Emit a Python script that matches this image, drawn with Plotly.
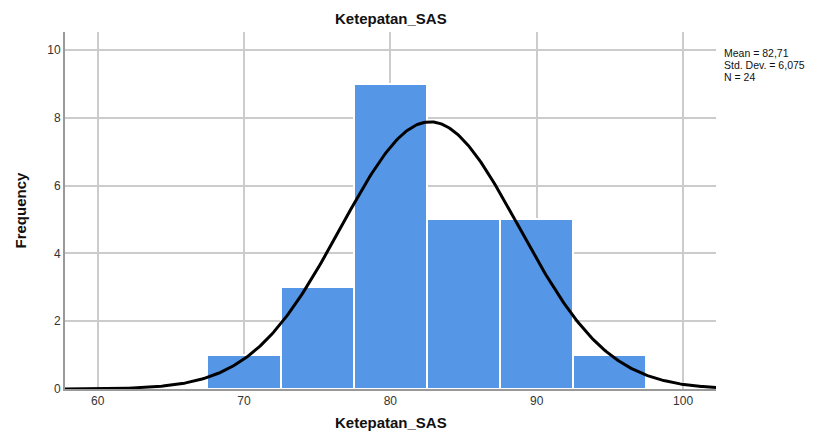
import numpy as np
import plotly.graph_objects as go

# Histogram data (bin centers, counts)
bin_centers = [70, 75, 80, 85, 90, 95]
counts = [1, 3, 9, 5, 5, 1]
bin_width = 5

# Displayed summary statistics
mean_val = 82.71
sd_val = 6.075
n_val = 24
stats_lines = ["Mean = 82,71", "Std. Dev. = 6,075", "N = 24"]

x_ticks = [60, 70, 80, 90, 100]
y_ticks = [0, 2, 4, 6, 8, 10]

# Fitted normal curve from the displayed statistics
xc = np.linspace(57.77, 102.25, 400)
yc = n_val * bin_width / (sd_val * np.sqrt(2 * np.pi)) * np.exp(-0.5 * ((xc - mean_val) / sd_val) ** 2)

fig = go.Figure()
fig.add_trace(go.Bar(
    x=bin_centers, y=counts, width=[bin_width] * len(bin_centers),
    marker=dict(color="rgb(85,150,230)", line=dict(color="white", width=2)),
    showlegend=False, hoverinfo="x+y",
))
fig.add_trace(go.Scatter(
    x=xc, y=yc, mode="lines", line=dict(color="black", width=3),
    showlegend=False, hoverinfo="skip",
))

font_family = "Liberation Sans, Arial, sans-serif"
annotations = [
    dict(text="<b>Ketepatan_SAS</b>", x=0.5, xref="paper", xanchor="center",
         y=1.0, yref="paper", yanchor="bottom", yshift=3,
         showarrow=False, font=dict(size=15, color="#111")),
    dict(text="<b>Ketepatan_SAS</b>", x=0.5, xref="paper", xanchor="center",
         y=0, yref="paper", yanchor="middle", yshift=-33,
         showarrow=False, font=dict(size=15, color="#111")),
    dict(text="<b>Frequency</b>", x=0, xref="paper", xanchor="center", xshift=-45,
         y=0.5, yref="paper", yanchor="middle",
         textangle=-90, showarrow=False, font=dict(size=15, color="#111")),
]
for i, line in enumerate(stats_lines):
    annotations.append(dict(
        text=line, x=1, xref="paper", xshift=7, y=1, yref="paper",
        yshift=-14 - 12 * i, xanchor="left", yanchor="top", align="left",
        borderpad=0, showarrow=False, font=dict(size=10.5, color="#111")))

fig.update_layout(
    width=821, height=431,
    margin=dict(l=57, r=113, t=24, b=50),
    paper_bgcolor="white", plot_bgcolor="white",
    bargap=0,
    font=dict(family=font_family, size=12, color="#222"),
    xaxis=dict(
        range=[57.77, 102.25], tickvals=x_ticks, ticks="", showgrid=True,
        gridcolor="#cccccc", gridwidth=1.5, showline=True, linecolor="#999999", linewidth=2,
        zeroline=False, tickfont=dict(size=12, color="#333"),
    ),
    yaxis=dict(
        range=[0, 10.53], tickvals=y_ticks, ticks="", showgrid=True,
        gridcolor="#cccccc", gridwidth=1.5, showline=True, linecolor="#999999", linewidth=2,
        zeroline=False, tickfont=dict(size=12, color="#333"),
    ),
    annotations=annotations,
)

fig.write_html("out.html")
